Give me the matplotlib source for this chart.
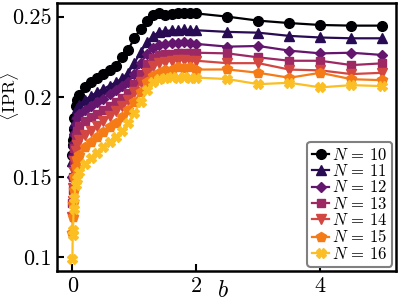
import numpy as np
import matplotlib
matplotlib.use('Agg')
import matplotlib.pyplot as plt

plt.rcParams.update({'font.family': 'serif',
                     'font.serif': ['cmr10', 'DejaVu Serif'],
                     'mathtext.fontset': 'cm',
                     'axes.formatter.use_mathtext': True,
                     'axes.unicode_minus': False})

# interaction strength b
b = [0, 0.005, 0.01, 0.02, 0.03, 0.05, 0.07,
     0.1, 0.2, 0.3, 0.4, 0.5, 0.6, 0.7, 0.8, 0.9, 1.0,
     1.1, 1.2, 1.3, 1.4, 1.5, 1.6, 1.7, 1.8, 1.9, 2.0,
     2.5, 3.0, 3.5, 4.0, 4.5, 5.0]

ipr_n10 = [0.164, 0.170, 0.173, 0.180, 0.187, 0.194, 0.198,
           0.201, 0.206, 0.209, 0.212, 0.2145, 0.217, 0.2195, 0.225, 0.2295, 0.2365,
           0.2425, 0.247, 0.251, 0.252, 0.251, 0.2515, 0.252, 0.2525, 0.2525, 0.252,
           0.2500, 0.2475, 0.246, 0.2448, 0.2444, 0.2444]
ipr_n11 = [0.160, 0.167, 0.172, 0.179, 0.184, 0.189, 0.193,
           0.195, 0.198, 0.2005, 0.203, 0.205, 0.207, 0.209, 0.2115, 0.215, 0.221,
           0.228, 0.234, 0.238, 0.2405, 0.241, 0.2415, 0.2415, 0.242, 0.2415, 0.2415,
           0.2405, 0.240, 0.238, 0.237, 0.2365, 0.2365]
ipr_n12 = [0.150, 0.157, 0.163, 0.171, 0.177, 0.183, 0.187,
           0.189, 0.192, 0.1945, 0.1965, 0.1985, 0.2015, 0.204, 0.2065, 0.2095, 0.2145,
           0.221, 0.2265, 0.2305, 0.2325, 0.233, 0.2335, 0.2335, 0.234, 0.2335, 0.233,
           0.2313, 0.2317, 0.2288, 0.2271, 0.2275, 0.2261]
ipr_n13 = [0.134, 0.142, 0.150, 0.160, 0.168, 0.175, 0.179,
           0.182, 0.185, 0.1875, 0.1895, 0.192, 0.194, 0.1965, 0.199, 0.2025, 0.208,
           0.2145, 0.2205, 0.2245, 0.226, 0.2265, 0.227, 0.2275, 0.2275, 0.2275, 0.2275,
           0.2271, 0.2246, 0.2225, 0.2225, 0.2198, 0.2209]
ipr_n14 = [0.125, 0.135, 0.143, 0.153, 0.160, 0.166, 0.170,
           0.173, 0.176, 0.179, 0.182, 0.185, 0.188, 0.191, 0.194, 0.198, 0.203,
           0.209, 0.215, 0.219, 0.221, 0.222, 0.2225, 0.223, 0.223, 0.2225, 0.2225,
           0.221, 0.221, 0.217, 0.2165, 0.2142, 0.215]
ipr_n15 = [0.115, 0.125, 0.133, 0.142, 0.150, 0.156, 0.161,
           0.164, 0.1685, 0.172, 0.175, 0.178, 0.181, 0.184, 0.1875, 0.192, 0.197,
           0.203, 0.209, 0.213, 0.215, 0.2165, 0.217, 0.2185, 0.218, 0.2185, 0.217,
           0.2171, 0.215, 0.2119, 0.215, 0.211, 0.2104]
ipr_n16 = [0.099, 0.1136, 0.1167, 0.130, 0.137, 0.145, 0.149,
           0.153, 0.158, 0.162, 0.165, 0.169, 0.172, 0.175, 0.179, 0.184, 0.190,
           0.197, 0.204, 0.209, 0.211, 0.212, 0.2125, 0.212, 0.2125, 0.212, 0.212,
           0.2111, 0.2079, 0.2088, 0.2059, 0.2073, 0.2067]

sizes = [10, 11, 12, 13, 14, 15, 16]
series = [ipr_n10, ipr_n11, ipr_n12, ipr_n13, ipr_n14, ipr_n15, ipr_n16]
markers = ['o', '^', 'D', 's', 'v', 'p', 'X']
msizes = [7, 7, 5, 5.5, 7, 7, 7]

yticks = [0.1, 0.15, 0.2, 0.25]
ytick_labels = ['0.1', '0.15', '0.2', '0.25']
xticks = [0, 2, 4]

colors = plt.cm.inferno(np.linspace(0, 0.85, len(sizes)))

fig = plt.figure(figsize=(3.98, 3.01), dpi=100)
ax = fig.add_axes([0.143, 0.1, 0.852, 0.89])

for n, y, m, ms, c in zip(sizes, series, markers, msizes, colors):
    ax.plot(b, y, marker=m, ms=ms, color=c, lw=1.6, label=r'$N\,=\,%d$' % n)

ax.set_xlim(-0.25, 5.22)
ax.set_ylim(0.0915, 0.2585)
ax.set_xticks(xticks)
ax.set_xticklabels([str(t) for t in xticks])
ax.set_yticks(yticks)
ax.set_yticklabels(ytick_labels)
ax.tick_params(direction='in', length=5, width=1.5, labelsize=16, pad=4)
for s in ax.spines.values():
    s.set_linewidth(1.8)

ax.set_xlabel(r'$b$', fontsize=17)
ax.xaxis.set_label_coords(0.49, -0.035)
ax.set_ylabel(r'$\langle \mathrm{IPR} \rangle$', fontsize=13)
ax.yaxis.set_label_coords(-0.105, 0.65)

leg = ax.legend(loc='lower right', fontsize=12, handlelength=1.0, handletextpad=0.15,
                labelspacing=0.02, borderpad=0.3, borderaxespad=0.25, fancybox=True,
                framealpha=1, edgecolor='gray')
leg.get_frame().set_linewidth(1.5)

plt.savefig('out.png', dpi=100)
plt.close()
